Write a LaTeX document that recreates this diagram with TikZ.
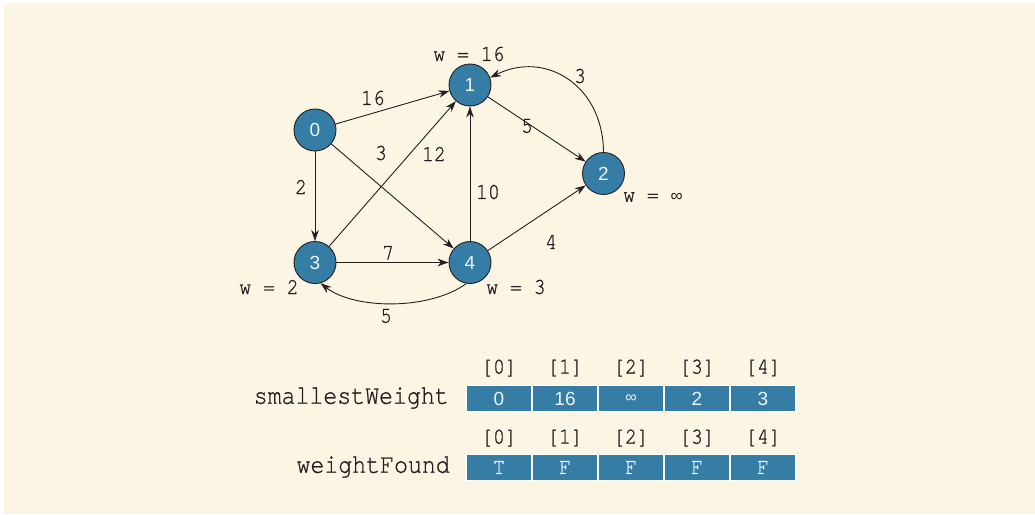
\documentclass[tikz,border=0pt]{standalone}
\usepackage{fontspec}
\newfontfamily\monof{TeX Gyre Cursor}[FakeStretch=0.86,FakeBold=0.8]
\newfontfamily\sansf{Liberation Sans}
\usetikzlibrary{arrows.meta}
\definecolor{cream}{RGB}{253,245,228}
\definecolor{nodeblue}{RGB}{54,125,166}
\definecolor{ink}{RGB}{35,31,32}
\definecolor{lighttxt}{RGB}{236,243,248}
\tikzset{
  vert/.style={circle, draw=ink, line width=0.9pt, fill=nodeblue, minimum size=42pt, inner sep=0pt,
    font=\sansf\fontsize{19}{19}\selectfont, text=lighttxt},
  edge/.style={draw=ink, line width=0.9pt, -{Stealth[length=11pt,width=7.5pt]}},
  lbl/.style={font=\monof\fontsize{23}{23}\selectfont, text=ink, inner sep=0pt},
  arrlbl/.style={font=\monof\fontsize{27}{27}\selectfont, text=ink, inner sep=0pt, anchor=east},
  idx/.style={font=\monof\fontsize{23}{23}\selectfont, text=ink, inner sep=0pt},
  cellbox/.style={rectangle, fill=nodeblue, draw=white, line width=1.5pt, minimum width=66pt, minimum height=26pt,
    inner sep=0pt, text=lighttxt, font=\sansf\fontsize{19}{19}\selectfont},
  cellmono/.style={cellbox, font=\monof\fontsize{23}{23}\selectfont},
}
\begin{document}
\begin{tikzpicture}[x=1pt,y=-1pt]
\useasboundingbox (0,0) rectangle (1035,514);
\fill[white] (0,0) rectangle (1035,514);
\fill[cream] (4,3) rectangle (1035,514);

% vertices
\node[vert] (v0) at (315,130) {0};
\node[vert] (v1) at (470,85) {1};
\node[vert] (v2) at (603.5,173.5) {2};
\node[vert] (v3) at (315,262.5) {3};
\node[vert] (v4) at (470,262.5) {4};

% edges
\draw[edge] (v0) -- (v1);
\draw[edge] (v0) -- (v4);
\draw[edge] (v0) -- (v3);
\draw[edge] (v3) -- (v1);
\draw[edge] (v4) -- (v1);
\draw[edge] (v3) -- (v4);
\draw[edge] (v4) -- (v2);
\draw[edge] (v1) -- (v2);
\draw[edge] (v2.north) .. controls (603,85) and (545,50) .. (v1.20);
\draw[edge] (v4.260) .. controls (430,310) and (355,310) .. (v3.-75);

% edge labels
\node[lbl] (l01) at (373,98) {16};
\node[lbl] (l04) at (381,153) {3};
\node[lbl] (l31) at (434,154) {12};
\node[lbl] (l03) at (301,187) {2};
\node[lbl] (l41) at (488,192) {10};
\node[lbl] (l34) at (388,253) {7};
\node[lbl] (l42) at (551,242) {4};
\node[lbl] (l43) at (386,316) {5};
\node[lbl] (l12) at (527,126) {5};
\node[lbl] (l21) at (580,76) {3};

% weights
\node[lbl] (w1) at (469,54) {w = 16};
\node[lbl] (w2) at (653,197) {w = {\sansf\fontsize{17}{17}\selectfont ∞}};
\node[lbl] (w3) at (269,287) {w = 2};
\node[lbl] (w4) at (516,287) {w = 3};

% arrays
\node[arrlbl] (swl) at (449,398) {smallestWeight};
\node[arrlbl] (wfl) at (450,467) {weightFound};

\node[cellbox] (s0) at (499,398.5) {0};
\node[cellbox] (s1) at (565,398.5) {16};
\node[cellbox] (s2) at (631,398.5) {\fontsize{16}{16}\selectfont ∞};
\node[cellbox] (s3) at (697,398.5) {2};
\node[cellbox] (s4) at (763,398.5) {3};

\node[cellmono] (f0) at (499,467.5) {T};
\node[cellmono] (f1) at (565,467.5) {F};
\node[cellmono] (f2) at (631,467.5) {F};
\node[cellmono] (f3) at (697,467.5) {F};
\node[cellmono] (f4) at (763,467.5) {F};

\foreach \i/\xx in {0/499,1/565,2/631,3/697,4/763}{
  \node[idx] (ia\i) at (\xx,368) {[\i]};
  \node[idx] (ib\i) at (\xx,438) {[\i]};
}
\end{tikzpicture}
\end{document}
